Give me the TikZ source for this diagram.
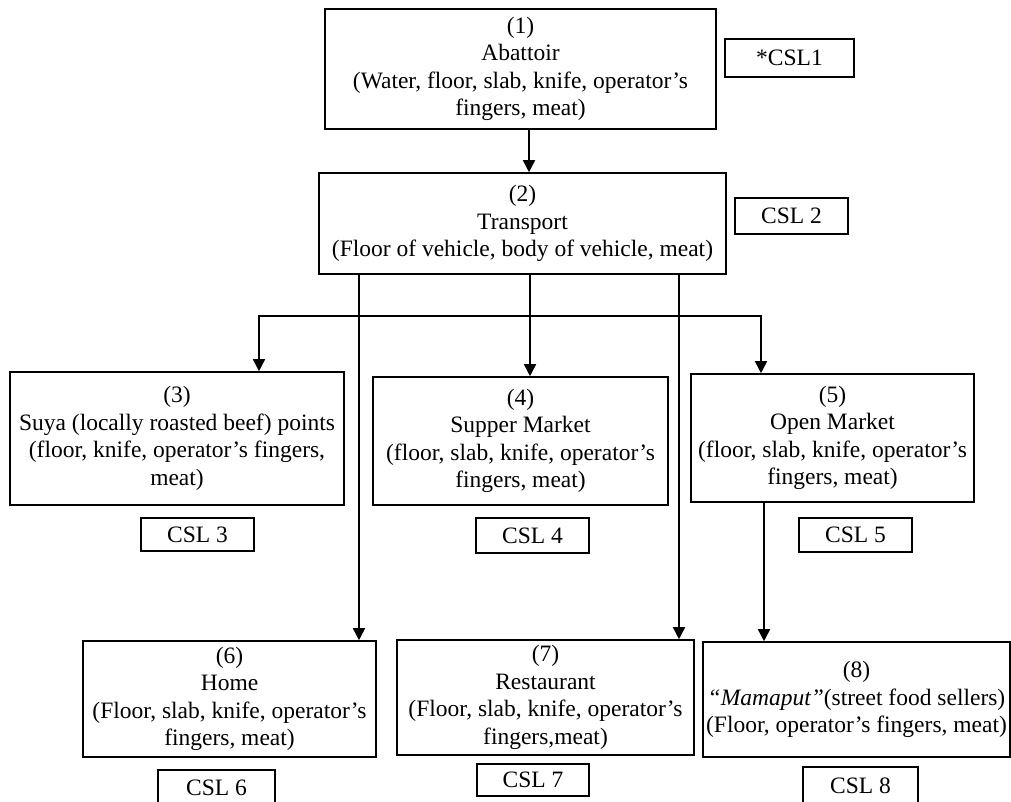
\documentclass[tikz,border=0pt]{standalone}
\usepackage{fontspec}
\setmainfont{Liberation Serif}
\usetikzlibrary{arrows.meta}

\begin{document}
\begin{tikzpicture}[x=1pt,y=-1pt,line width=1.6pt]

    \def\boxfont{\fontsize{23.5}{27.5}\selectfont}

    % Styles
    \tikzstyle{stage}=[draw,align=center,inner sep=0pt,font=\boxfont]
    \tikzstyle{csl}=[draw,inner sep=0pt,font=\boxfont]
    \tikzstyle{flow}=[-{Triangle[length=12pt,width=12pt]}]

    \clip (0,0) rectangle (1011,801);

    % abattoir
    \node[stage,minimum width=391,minimum height=120] (abattoir) at (520.5,69)
        {(1)\\Abattoir\\(Water, floor, slab, knife, operator’s\\fingers, meat)};
    \node[csl,minimum width=129,minimum height=38] (csl1) at (789.5,58) {*CSL1};

    % transport
    \node[stage,minimum width=407,minimum height=101] (transport) at (522.5,223.5)
        {(2)\\Transport\\(Floor of vehicle, body of vehicle, meat)};
    \node[csl,minimum width=113,minimum height=36] (csl2) at (791.5,216) {CSL 2};

    % retail points
    \node[stage,minimum width=334,minimum height=133] (suya) at (177,438.5)
        {(3)\\Suya (locally roasted beef) points\\(floor, knife, operator’s fingers,\\meat)};
    \node[csl,minimum width=113,minimum height=33] (csl3) at (197.5,534.5) {CSL 3};

    \node[stage,minimum width=295,minimum height=128] (supper) at (520.5,441)
        {(4)\\Supper Market\\(floor, slab, knife, operator’s\\fingers, meat)};
    \node[csl,minimum width=113,minimum height=35] (csl4) at (532.5,535.5) {CSL 4};

    \node[stage,minimum width=283,minimum height=128] (open) at (832.5,438)
        {(5)\\Open Market\\(floor, slab, knife, operator’s\\fingers, meat)};
    \node[csl,minimum width=113,minimum height=34] (csl5) at (855.5,535) {CSL 5};

    % consumers
    \node[stage,minimum width=293,minimum height=116] (home) at (229.5,699)
        {(6)\\Home\\(Floor, slab, knife, operator’s\\fingers, meat)};
    \node[csl,minimum width=117,minimum height=35] (csl6) at (216.5,787.5) {CSL 6};

    \node[stage,minimum width=297,minimum height=115] (rest) at (545.5,697.5)
        {(7)\\Restaurant\\(Floor, slab, knife, operator’s\\fingers,meat)};
    \node[csl,minimum width=112,minimum height=32] (csl7) at (533,780) {CSL 7};

    \node[stage,minimum width=307,minimum height=115] (mama) at (856.5,699.5)
        {(8)\\\textit{“Mamaput”}(street food sellers)\\(Floor, operator’s fingers, meat)};
    \node[csl,minimum width=115,minimum height=38] (csl8) at (860.5,786) {CSL 8};

    % connector columns
    \coordinate (xa) at (529,0);
    \coordinate (xs) at (259,0);
    \coordinate (xh) at (359,0);
    \coordinate (xm) at (530,316);
    \coordinate (xr) at (679,0);
    \coordinate (xo) at (761,0);
    \coordinate (xp) at (764,0);

    % flows
    \draw[flow] (abattoir.south -| xa) -- (transport.north -| xa);
    \draw[flow] (transport.south -| xm) -- (supper.north -| xm);
    \draw[flow] (xm) -| (suya.north -| xs);
    \draw[flow] (xm) -| (open.north -| xo);
    \draw[flow] (transport.south -| xh) -- (home.north -| xh);
    \draw[flow] (transport.south -| xr) -- (rest.north -| xr);
    \draw[flow] (open.south -| xp) -- (mama.north -| xp);

\end{tikzpicture}
\end{document}
